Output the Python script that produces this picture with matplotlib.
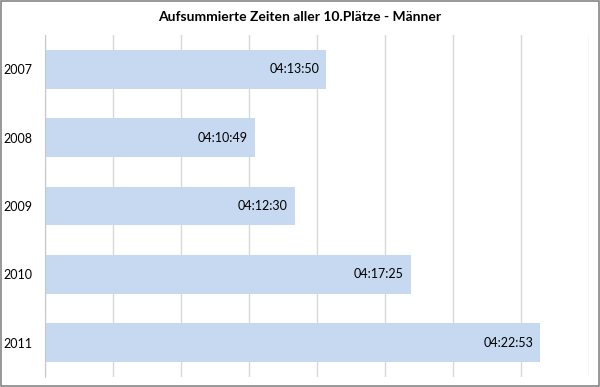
import matplotlib
matplotlib.use("Agg")
import matplotlib.pyplot as plt
from matplotlib.patches import Rectangle
import numpy as np

years = ["2007", "2008", "2009", "2010", "2011"]
times = ["04:13:50", "04:10:49", "04:12:30", "04:17:25", "04:22:53"]

# Excel style time axis in days
xmin = 0.168
xmax = 0.184
xstep = 0.002

def to_days(t):
    h, m, s = [int(p) for p in t.split(":")]
    return (h * 3600 + m * 60 + s) / 86400.0

values = np.array([to_days(t) for t in times])

plt.rcParams['font.family'] = ['Lato', 'DejaVu Sans']

fig = plt.figure(figsize=(6.0, 3.87), dpi=100)
fig.patch.set_facecolor("white")
fig.patches.append(Rectangle((0.002, 0.003), 0.996, 0.994, transform=fig.transFigure,
                             fill=False, edgecolor="#868686", linewidth=1.2))

ax = fig.add_axes([0.075, 0.0258, 0.9067, 0.8838])
y = np.arange(len(years))
ax.barh(y, values - xmin, left=xmin, height=0.57, color="#c6d9f1", zorder=2)

ax.set_xlim(xmin, xmax)
ax.set_ylim(len(years) - 0.5, -0.5)
ax.set_xticks(np.arange(xmin, xmax + xstep / 2, xstep))
ax.set_xticklabels([])
ax.tick_params(axis="x", length=0)
ax.grid(axis="x", color="#d9d9d9", linewidth=1, zorder=0)
ax.set_yticks(y)
ax.set_yticklabels(years, fontsize=9)
ax.tick_params(axis="y", length=0, pad=9)

for side in ["top", "right", "bottom"]:
    ax.spines[side].set_visible(False)
ax.spines["left"].set_color("#c8c8c8")

for yi, v, t in zip(y, values, times):
    ax.annotate(t, (v, yi), xytext=(-5, 0), textcoords="offset points",
                ha="right", va="center", fontsize=9, zorder=3)

fig.text(0.5, 0.956, "Aufsummierte Zeiten aller 10.Plätze - Männer",
         ha="center", va="center", fontsize=10, fontweight="bold")

fig.savefig("out.png", dpi=100)
